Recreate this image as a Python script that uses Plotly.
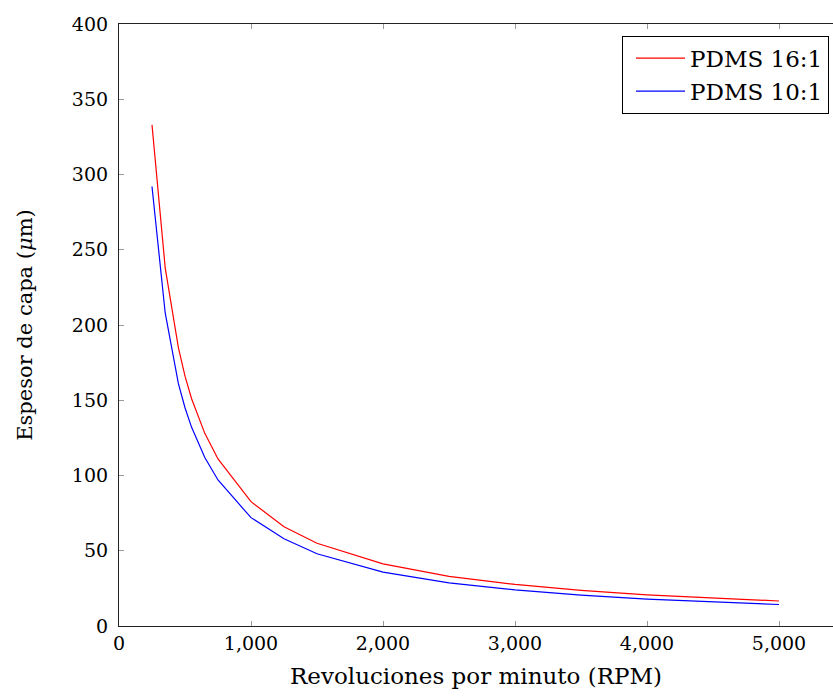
import plotly.graph_objects as go

rpm = [250, 350, 450, 500, 550, 650, 750, 1000, 1250, 1500, 2000, 2500, 3000, 3500, 4000, 4500, 5000]
pdms_16_1 = [333, 238, 185, 166, 151, 128, 111, 82.6, 66, 55, 41.3, 33, 27.6, 23.7, 20.7, 18.4, 16.6]
pdms_10_1 = [292, 208, 161, 145, 132, 112, 97, 72, 58, 48, 35.8, 28.6, 24, 20.5, 17.9, 15.9, 14.3]

x_ticks = [0, 1000, 2000, 3000, 4000, 5000]
x_tick_labels = ["0", "1,000", "2,000", "3,000", "4,000", "5,000"]
y_ticks = [0, 50, 100, 150, 200, 250, 300, 350, 400]
y_tick_labels = ["0", "50", "100", "150", "200", "250", "300", "350", "400"]

FONT = "DejaVu Serif"

fig = go.Figure()
fig.add_trace(go.Scatter(x=rpm, y=pdms_16_1, mode="lines", name="PDMS 16:1",
                         line=dict(color="#ff0000", width=1.2)))
fig.add_trace(go.Scatter(x=rpm, y=pdms_10_1, mode="lines", name="PDMS 10:1",
                         line=dict(color="#0000ff", width=1.2)))

fig.update_layout(
    width=833, height=700,
    margin=dict(l=119, r=0, t=24, b=74),
    paper_bgcolor="white", plot_bgcolor="white",
    font=dict(family=FONT, size=19, color="black"),
    showlegend=True,
    legend=dict(x=0.9944, y=0.9806, xanchor="right", yanchor="top",
                bgcolor="white", bordercolor="black", borderwidth=1,
                font=dict(family=FONT, size=23), tracegroupgap=0,
                itemwidth=49, indentation=8),
)
fig.update_xaxes(
    range=[0, 5409], tickvals=x_ticks, ticktext=x_tick_labels,
    showgrid=False, zeroline=False, showline=True, linecolor="#222", linewidth=1.2,
    ticks="inside", ticklen=5, tickcolor="#999", tickwidth=1,
    mirror="ticks",
    title=dict(text="Revoluciones por minuto (RPM)", standoff=14),
)
fig.update_yaxes(
    range=[0, 400], tickvals=y_ticks, ticktext=y_tick_labels,
    showgrid=False, zeroline=False, showline=True, linecolor="#222", linewidth=1.2,
    ticks="inside", ticklen=5, tickcolor="#999", tickwidth=1,
    ticklabelstandoff=6,
    title=dict(text="Espesor de capa (<i>μ</i>m)", standoff=33, font=dict(size=21)),
)

fig.write_html("out.html",
               config={"displayModeBar": False},
               post_script="document.body.style.margin='0';document.body.style.overflow='hidden';")
